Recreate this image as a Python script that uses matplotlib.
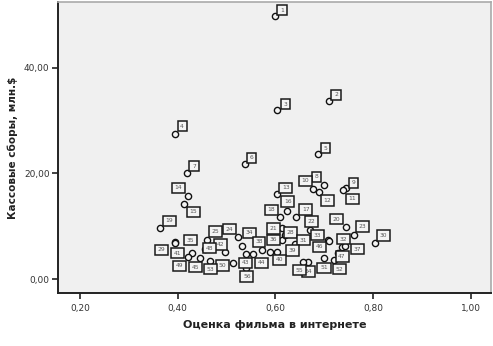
import matplotlib
matplotlib.use("Agg")
import matplotlib.pyplot as plt
from matplotlib.ticker import FuncFormatter

# ---- data ----
labels = [1, 2, 3, 4, 5, 6, 7, 8, 9, 10, 11, 12, 13, 14, 15, 16, 17, 18, 19, 20,
          21, 22, 23, 24, 25, 28, 29, 30, 31, 32, 33, 34, 35, 36, 37, 38, 39, 40,
          41, 42, 43, 44, 45, 46, 47, 48, 49, 50, 51, 52, 53, 54, 55, 56]
rating = [0.599, 0.709, 0.604, 0.394, 0.688, 0.538, 0.419, 0.699, 0.744, 0.677,
          0.739, 0.689, 0.603, 0.420, 0.413, 0.624, 0.643, 0.609, 0.364, 0.744,
          0.614, 0.670, 0.761, 0.524, 0.460, 0.619, 0.394, 0.804, 0.640, 0.737,
          0.707, 0.531, 0.395, 0.614, 0.742, 0.573, 0.604, 0.589, 0.429, 0.497,
          0.540, 0.555, 0.446, 0.709, 0.728, 0.456, 0.420, 0.514, 0.700, 0.720,
          0.465, 0.667, 0.657, 0.540]
boxoffice = [49.9, 33.8, 32.0, 27.5, 23.6, 21.8, 20.0, 17.8, 17.2, 17.1,
             16.8, 16.4, 16.1, 15.7, 14.3, 12.9, 11.8, 11.7, 9.7, 9.8,
             9.6, 9.2, 8.3, 8.0, 7.4, 8.3, 7.1, 6.9, 6.6, 6.1,
             7.3, 6.3, 6.9, 7.4, 6.3, 5.5, 5.1, 5.1, 5.0, 5.1,
             4.7, 4.7, 4.0, 7.2, 4.9, 5.7, 4.1, 3.1, 3.9, 3.6,
             3.5, 3.2, 3.2, 2.1]
xticks = [0.2, 0.4, 0.6, 0.8, 1.0]
yticks = [0, 20, 40]

# label box offsets (pixels, right / down) relative to each point
off_px = [(7, -5.7), (7.3, -5.7), (7.7, -6), (7.3, -7.7), (7.3, -6.3), (6.7, -6), (7, -7.3),
          (-7.3, -8.3), (7.3, -5.5), (-7.6, -8), (8.7, 8.4), (8.3, 8), (9, -6.3), (-9, -8.3),
          (9, 8.4), (0.7, -9.4), (9.3, -7.4), (-8.3, -7.3), (9, -7), (-9.3, -8),
          (-9, 0), (2, -9), (8, -8.6), (-9, -7.7), (8.4, -8.3), (5.7, -2.7), (-13.3, 8.3),
          (8, -7), (8.3, -4), (1.4, -7.7), (-10.7, -5.4), (7.6, -13), (15.2, -2.5), (-9, 0),
          (12.7, 3.3), (-3.3, -8), (15.2, -1.5), (9.3, 7.7), (-14, 0.6), (-4.3, -7.7),
          (-0.3, 8.7), (8.4, 8.7), (-4.3, 9.3), (-9.5, 5.7), (4, 3.4), (4.3, -0.7),
          (-8.3, 8.4), (-11, 3), (-0.3, 9.4), (5, 9), (0.7, 8.6), (0, 9.3), (-4, 8), (0.7, 8.7)]

W, H, DPI = 493, 346, 100
fig = plt.figure(figsize=(W / DPI, H / DPI), dpi=DPI, facecolor="white")
ax = fig.add_axes([58 / W, 1 - 293 / H, (491 - 58) / W, (293 - 2) / H])
ax.set_facecolor("#f0f0f0")

ax.scatter(rating, boxoffice, s=20, facecolors="#f4f4f4", edgecolors="#111111",
           linewidths=1.0, zorder=3)

px2pt = 72 / DPI
for lab, xv, yv, (dx, dy) in zip(labels, rating, boxoffice, off_px):
    ax.annotate(str(lab), (xv, yv), xytext=(dx * px2pt, -dy * px2pt),
                textcoords="offset points", ha="center", va="center",
                fontsize=4.3, color="#555555", zorder=4,
                bbox=dict(boxstyle="square,pad=0.45", fc="#f4f4f4", ec="#1a1a1a", lw=1.1))

ax.set_xlim(0.155, 1.041)
ax.set_ylim(-2.65, 52.5)
ax.set_xticks(xticks)
ax.set_yticks(yticks)
fmt = FuncFormatter(lambda v, p: f"{v:.2f}".replace(".", ","))
ax.xaxis.set_major_formatter(fmt)
ax.yaxis.set_major_formatter(fmt)
ax.tick_params(axis="both", direction="out", length=4, width=1.2, color="#222222",
               labelsize=6.5, labelcolor="#333333")
ax.tick_params(axis="x", pad=4)
ax.tick_params(axis="y", pad=2)

for s in ["left", "bottom"]:
    ax.spines[s].set_color("#222222")
    ax.spines[s].set_linewidth(1.4)
for s in ["top", "right"]:
    ax.spines[s].set_color("#aaaaaa")
    ax.spines[s].set_linewidth(1.2)

ax.set_xlabel("Оценка фильма в интернете", fontsize=8, fontweight="bold",
              color="#222222", labelpad=5)
ax.set_ylabel("Кассовые сборы, млн.$", fontsize=7.5, fontweight="bold",
              color="#222222", labelpad=4)

fig.savefig("out.png", dpi=DPI, facecolor="white")
